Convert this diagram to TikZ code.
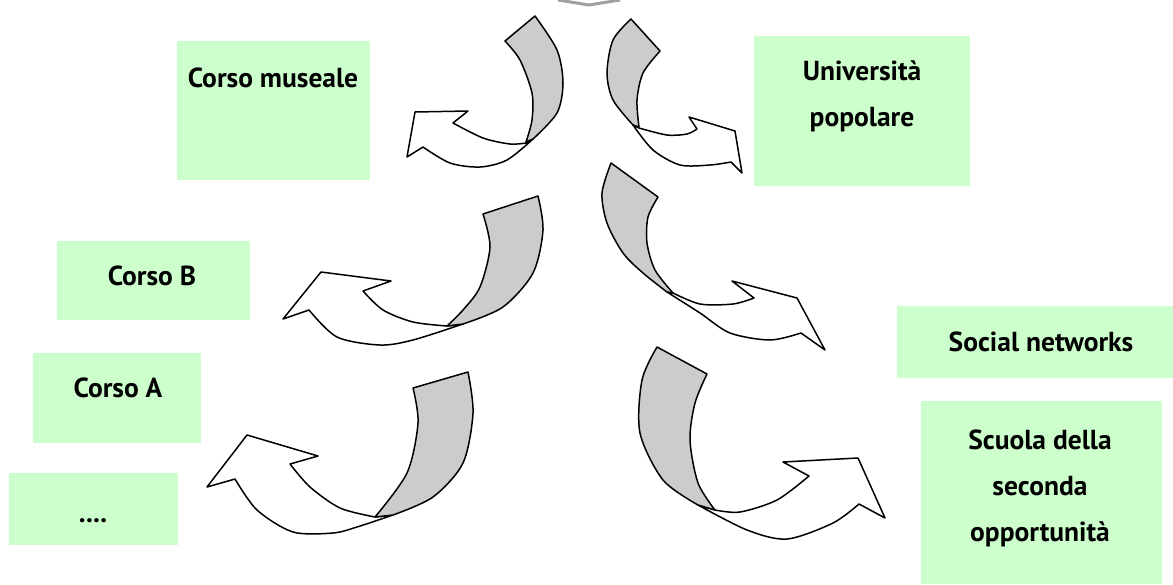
\documentclass[tikz,border=0pt]{standalone}
\usepackage{fontspec}
\setmainfont{PT Sans}
\definecolor{verde}{HTML}{CCFFCC}
\definecolor{grigio}{HTML}{CCCCCC}
\definecolor{bordo}{HTML}{A0A0A0}
\begin{document}
\begin{tikzpicture}[x=1pt,y=-1pt,
  casella/.style={fill=verde,inner sep=0pt},
  testo/.style={font=\fontsize{27.5}{46}\selectfont\bfseries,align=center,anchor=base,inner sep=0pt},
  freccia/.style={draw,fill=white,line width=1.5pt,line join=round},
  piega/.style={draw,fill=grigio,line width=1.5pt,line join=round}]
\useasboundingbox (0,0) rectangle (1173,584);
%
\draw[bordo,line width=3pt] (558,0)--(589,5)--(620,0);
%
\node[casella,minimum width=193,minimum height=139] (museale) at (273.5,110.5) {};
\node[casella,minimum width=216,minimum height=150] (universita) at (862,111) {};
\node[casella,minimum width=193,minimum height=79] (corsoB) at (153.5,280.5) {};
\node[casella,minimum width=168,minimum height=90] (corsoA) at (117,398) {};
\node[casella,minimum width=169,minimum height=72] (puntini) at (93.5,509) {};
\node[casella,minimum width=280,minimum height=72] (social) at (1037,342) {};
\node[casella,minimum width=241,minimum height=183] (scuola) at (1041.5,492.5) {};
%
\node[testo] (museale-t) at (273,87) {Corso museale};
\node[testo] (universita-t) at (862,126) {Università\\popolare};
\node[testo] (corsoB-t) at (152,285) {Corso B};
\node[testo] (corsoA-t) at (118,397) {Corso A};
\node[testo] (puntini-t) at (93,522) {....};
\node[testo] (social-t) at (1041,351) {Social networks};
\node[testo] (scuola-t) at (1040,541) {Scuola della\\seconda\\opportunità};
%
\draw[freccia] plot[smooth] coordinates {(526,143) (510,144) (483,138) (453,123)}
  --(468,111)--(415,112)--(407,157)--(423,147)
  --plot[smooth] coordinates {(423,147) (450,163) (480,167) (507,160) (533,139)}--cycle;
\draw[piega] (505,41)--plot[smooth] coordinates {(535,16) (557,50) (563,83) (557,113) (533,139)}
  --plot[smooth] coordinates {(526,142) (532,120) (532,93) (520,60) (505,41)}--cycle;
%
\draw[freccia] plot[smooth] coordinates {(639,128) (667,135) (687,134) (697,129)}
  --(689,117)--(735,131)--(742,173)--(731,162)
  --plot[smooth] coordinates {(731,162) (710,165) (680,165) (653,150) (633,125)}--cycle;
\draw[piega] (631,19)--plot[smooth] coordinates {(660,51) (643,73) (637,100) (639,127)}
  --plot[smooth] coordinates {(633,125) (613,100) (607,73) (613,40) (631,19)}--cycle;
%
\draw[freccia] plot[smooth] coordinates {(447,326) (413,322) (383,310) (363,291)}
  --(391,281)--(321,272)--(283,319)--(309,310)
  --plot[smooth] coordinates {(309,310) (337,337) (380,345) (413,340) (463,324)}--cycle;
\draw[piega] (483,214)--plot[smooth] coordinates {(538,196) (543,230) (533,273) (503,307) (463,324)}
  --plot[smooth] coordinates {(447,326) (463,310) (480,287) (490,247) (483,214)}--cycle;
%
\draw[freccia] plot[smooth] coordinates {(673,293) (700,304) (733,304) (754,298)}
  --(732,281)--(797,298)--(825,350)--(801,333)
  --plot[smooth] coordinates {(801,333) (770,340) (730,333) (700,313) (667,292)}--cycle;
\draw[piega] (611,163)--plot[smooth] coordinates {(658,197) (648,217) (647,243) (655,270) (673,293)}
  --plot[smooth] coordinates {(667,292) (643,273) (623,253) (607,223) (602,193) (611,163)}--cycle;
%
\draw[freccia] plot[smooth] coordinates {(375,517) (340,508) (310,487) (290,464)}
  --(318,456)--(247,435)--(207,487)--(235,479)
  --plot[smooth] coordinates {(235,479) (257,510) (293,532) (333,533) (357,527) (393,515)}--cycle;
\draw[piega] (413,388)--plot[smooth] coordinates {(468,372) (473,413) (463,463) (433,497) (393,515)}
  --plot[smooth] coordinates {(375,517) (407,473) (418,423) (413,388)}--cycle;
%
\draw[freccia] plot[smooth] coordinates {(715,510) (740,512) (777,500) (809,476)}
  --(783,462)--(858,458)--(885,518)--(859,504)
  --plot[smooth] coordinates {(859,504) (833,523) (787,539) (747,530) (698,505)}--cycle;
\draw[piega] (657,347)--plot[smooth] coordinates {(707,374) (695,403) (690,440) (698,483) (715,510)}
  --plot[smooth] coordinates {(698,505) (663,480) (640,433) (642,380) (657,347)}--cycle;
\end{tikzpicture}
\end{document}
